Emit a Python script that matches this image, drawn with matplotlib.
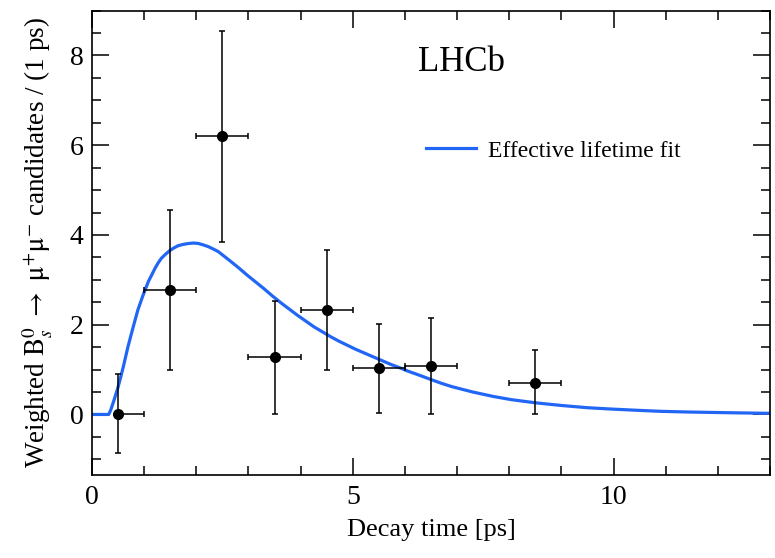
import numpy as np
import matplotlib
matplotlib.use("Agg")
from matplotlib import pyplot as plt
from matplotlib.ticker import MultipleLocator

plt.rcParams['font.family'] = ['Liberation Serif', 'DejaVu Serif']
plt.rcParams['mathtext.fontset'] = 'stix'

# data points (bin centres, weighted candidates, asymmetric errors)
t_pts = [0.5, 1.5, 2.5, 3.5, 4.5, 5.5, 6.5, 8.5]
n_pts = [0.02, 2.78, 6.21, 1.27, 2.33, 1.04, 1.08, 0.71]
y_lo = [0.88, 1.80, 2.37, 1.26, 1.35, 1.00, 1.06, 0.69]
y_hi = [0.88, 1.78, 2.34, 1.25, 1.34, 0.98, 1.07, 0.73]
x_lo = [0.0, 0.5, 0.5, 0.5, 0.5, 0.5, 0.5, 0.5]
x_hi = [0.5, 0.5, 0.5, 0.5, 0.5, 0.5, 0.5, 0.5]

# effective lifetime fit curve
t_fit = [0.0, 0.32, 0.36, 0.40, 0.45, 0.50, 0.55, 0.60, 0.69, 0.79, 0.88, 0.98,
         1.08, 1.15, 1.21, 1.27, 1.33, 1.41, 1.49, 1.57, 1.65, 1.75, 1.85, 1.95,
         2.04, 2.13, 2.23, 2.32, 2.42, 2.53, 2.65, 2.81, 2.97, 3.13, 3.29, 3.45,
         3.62, 3.78, 3.94, 4.10, 4.26, 4.42, 4.58, 4.74, 4.90, 5.06, 5.22, 5.38,
         5.54, 5.72, 5.90, 6.07, 6.24, 6.38, 6.52, 6.71, 6.90, 7.10, 7.30, 7.50,
         7.70, 7.87, 8.04, 8.27, 8.50, 8.75, 9.00, 9.25, 9.50, 9.73, 9.96, 10.23,
         10.5, 10.9, 11.4, 11.88, 12.4, 13.0]
n_fit = [0.0, 0.0, 0.10, 0.24, 0.42, 0.61, 0.83, 1.06, 1.51, 1.95, 2.33, 2.66,
         2.96, 3.12, 3.26, 3.38, 3.48, 3.57, 3.65, 3.71, 3.76, 3.79, 3.81, 3.82,
         3.81, 3.78, 3.74, 3.69, 3.63, 3.53, 3.42, 3.27, 3.11, 2.96, 2.81, 2.65,
         2.49, 2.35, 2.21, 2.08, 1.95, 1.84, 1.73, 1.63, 1.54, 1.45, 1.37, 1.29,
         1.21, 1.12, 1.04, 0.96, 0.89, 0.83, 0.77, 0.69, 0.62, 0.56, 0.50, 0.45,
         0.40, 0.365, 0.33, 0.295, 0.26, 0.23, 0.20, 0.175, 0.15, 0.135, 0.12, 0.105,
         0.09, 0.07, 0.055, 0.045, 0.035, 0.025]

fig = plt.figure(figsize=(7.75, 5.58), dpi=100)
ax = fig.add_axes([0.1187, 0.1487, 0.8748, 0.8323])

ax.plot(t_fit, n_fit, color='#2166f5', lw=2.3, label='Effective lifetime fit', zorder=2)
ax.errorbar(t_pts, n_pts, yerr=[y_lo, y_hi], xerr=[x_lo, x_hi], fmt='o', color='black',
            ms=7, elinewidth=1.1, capsize=2.5, capthick=1.1, zorder=3)

ax.set_xlim(0, 13)
ax.set_ylim(-1.35, 9.0)
ax.xaxis.set_major_locator(MultipleLocator(5))
ax.xaxis.set_minor_locator(MultipleLocator(1))
ax.yaxis.set_major_locator(MultipleLocator(2))
ax.yaxis.set_minor_locator(MultipleLocator(0.5))
ax.tick_params(which='both', direction='in', top=True, right=True, width=1.1, labelsize=20)
ax.tick_params(which='major', length=12)
ax.tick_params(which='minor', length=6.5)
ax.tick_params(axis='x', pad=7)
ax.tick_params(axis='y', pad=6)
for s in ax.spines.values():
    s.set_linewidth(1.2)

ax.set_xlabel('Decay time [ps]', fontsize=19, labelpad=7)
ax.set_ylabel(r'Weighted $\mathrm{B}_s^0\ \rightarrow\ \mathrm{\mu}^{+}\mathrm{\mu}^{-}$ candidates / (1 ps)',
              fontsize=19.5, labelpad=11)

ax.text(0.481, 0.889, 'LHCb', transform=ax.transAxes, fontsize=25, va='center', ha='left')
ax.legend(loc='center left', bbox_to_anchor=(0.493, 0.698), frameon=False, fontsize=17,
          handlelength=2.1, handletextpad=0.5, borderpad=0, borderaxespad=0)

fig.savefig('out.png', dpi=100)
